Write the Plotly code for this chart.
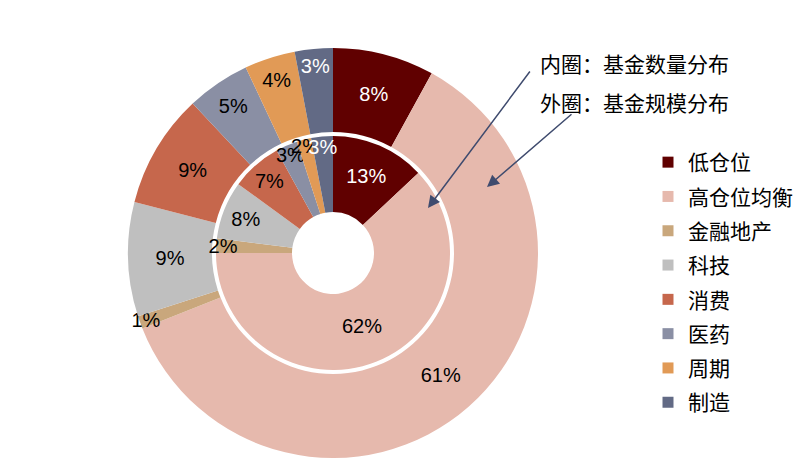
import plotly.graph_objects as go

labels = ['低仓位', '高仓位均衡', '金融地产', '科技', '消费', '医药', '周期', '制造']
colors = ['#600000', '#E6B9AD', '#C9A77C', '#BFBFBF', '#C6674C', '#8A8FA4', '#E19A56', '#626A85']

# 外圈：基金规模分布 (%)
outer_vals = [8, 61, 1, 9, 9, 5, 4, 3]
# 内圈：基金数量分布 (%)
inner_vals = [13, 62, 2, 8, 7, 3, 2, 3]

dark = ['低仓位', '制造']
txt_colors = ['white' if l in dark else 'black' for l in labels]

W, H = 801, 473
OFF = 8  # page body margin, positions below are given in window pixels
cx, cy = 333, 253
r_out, r_out_hole = 205, 121
r_in, r_in_hole = 117, 41


def px(x):
    return (x - OFF) / W


def py(y):
    return 1 - (y - OFF) / H


def dom(r):
    return dict(x=[px(cx - r), px(cx + r)], y=[py(cy + r), py(cy - r)])


fig = go.Figure()

fig.add_trace(go.Pie(labels=labels, values=outer_vals, sort=False, direction='clockwise',
                     rotation=0, hole=r_out_hole / r_out, domain=dom(r_out),
                     marker=dict(colors=colors, line=dict(width=0)),
                     texttemplate='%{value}%', textposition='inside',
                     insidetextorientation='horizontal',
                     textfont=dict(color=txt_colors, size=20, family='Liberation Sans'),
                     showlegend=False, hoverinfo='label+value'))

fig.add_trace(go.Pie(labels=labels, values=inner_vals, sort=False, direction='clockwise',
                     rotation=0, hole=r_in_hole / r_in, domain=dom(r_in),
                     marker=dict(colors=colors, line=dict(width=0)),
                     texttemplate='%{value}%', textposition='inside',
                     insidetextorientation='horizontal',
                     textfont=dict(color=txt_colors, size=20, family='Liberation Sans'),
                     showlegend=False, hoverinfo='label+value'))

# legend entries (one group each so the spacing can be opened up)
for lab, col in zip(labels, colors):
    fig.add_trace(go.Scatter(x=[None], y=[None], mode='markers', name=lab,
                             legendgroup=lab,
                             marker=dict(symbol='square', size=11, color=col)))

arrow_col = '#3F4B6E'
fig.add_annotation(x=px(428), y=py(208), xref='paper', yref='paper', text='',
                   showarrow=True, ax=103, ay=-138, arrowhead=2, arrowsize=1.6,
                   arrowwidth=1.5, arrowcolor=arrow_col)
fig.add_annotation(x=px(487), y=py(187), xref='paper', yref='paper', text='',
                   showarrow=True, ax=86, ay=-74, arrowhead=2, arrowsize=1.6,
                   arrowwidth=1.5, arrowcolor=arrow_col)
fig.add_annotation(x=px(538), y=py(63), xref='paper', yref='paper', text='内圈：基金数量分布',
                   showarrow=False, xanchor='left', yanchor='middle',
                   font=dict(size=21, color='black', family='Noto Sans CJK SC'))
fig.add_annotation(x=px(538), y=py(102), xref='paper', yref='paper', text='外圈：基金规模分布',
                   showarrow=False, xanchor='left', yanchor='middle',
                   font=dict(size=21, color='black', family='Noto Sans CJK SC'))

fig.update_layout(width=W, height=H, margin=dict(l=0, r=0, t=0, b=0),
                  paper_bgcolor='white', plot_bgcolor='white',
                  xaxis=dict(visible=False), yaxis=dict(visible=False),
                  uniformtext=dict(minsize=20, mode='show'),
                  showlegend=True,
                  legend=dict(x=px(648), y=py(142), xanchor='left', yanchor='top',
                              traceorder='grouped', tracegroupgap=4,
                              font=dict(size=21, color='black', family='Noto Sans CJK SC'),
                              bgcolor='rgba(0,0,0,0)'),
                  font=dict(family='Noto Sans CJK SC'))

fig.write_html('out.html')
